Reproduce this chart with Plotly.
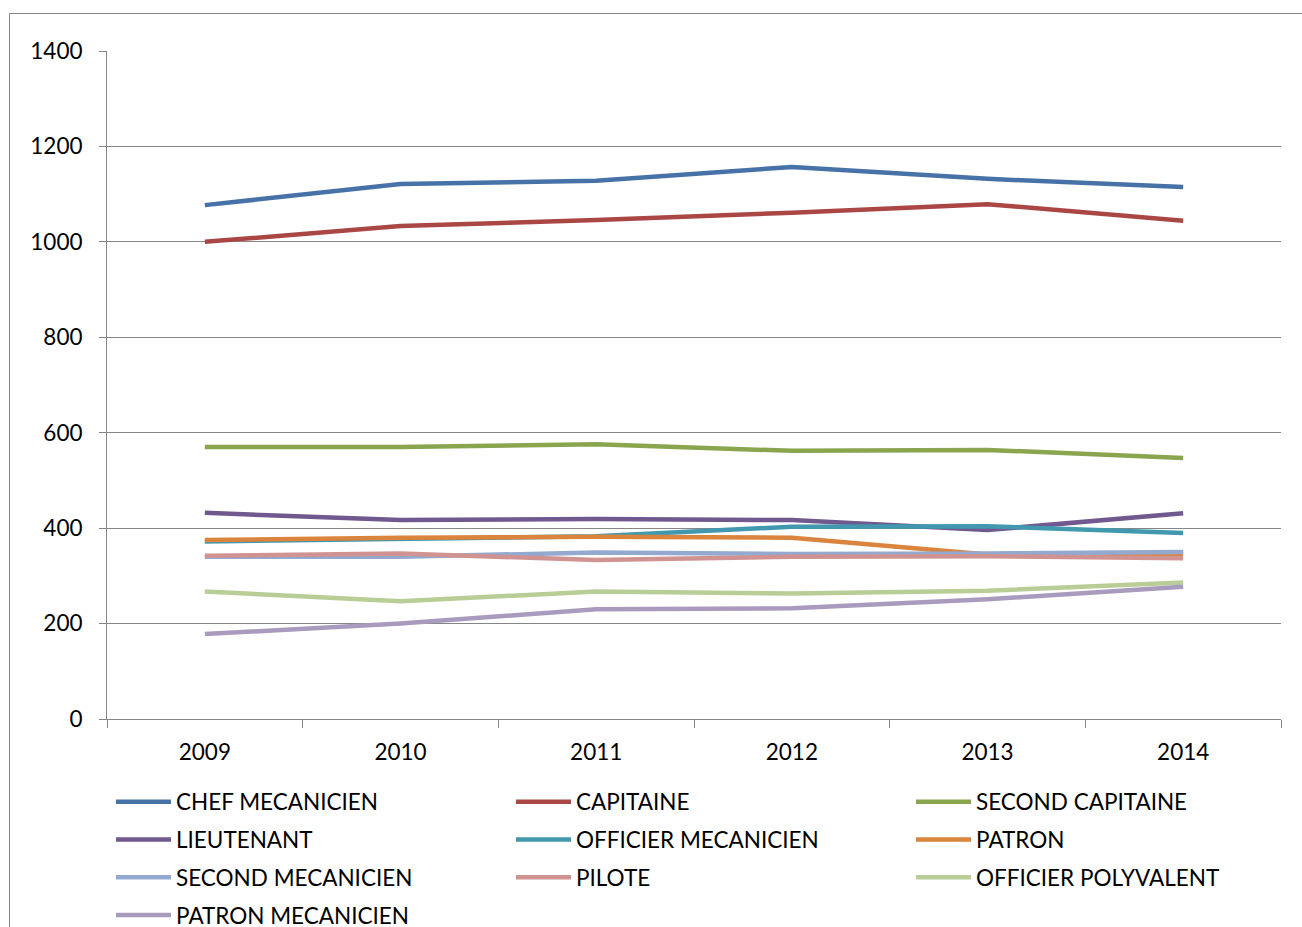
import plotly.graph_objects as go

years = ["2009", "2010", "2011", "2012", "2013", "2014"]

chef_mecanicien = [1077, 1121, 1128, 1157, 1132, 1115]
capitaine = [1000, 1033, 1046, 1061, 1079, 1044]
second_capitaine = [570, 570, 576, 562, 564, 547]
lieutenant = [432, 417, 419, 417, 396, 431]
officier_mecanicien = [372, 378, 383, 403, 404, 390]
patron = [375, 380, 382, 380, 345, 346]
second_mecanicien = [340, 340, 349, 346, 347, 350]
pilote = [342, 347, 333, 340, 341, 337]
officier_polyvalent = [267, 247, 267, 263, 269, 286]
patron_mecanicien = [178, 200, 230, 232, 251, 277]

# (name, values, colour, legend column)
series = [
    ("CHEF MECANICIEN", chef_mecanicien, "#4672A8", "legend"),
    ("CAPITAINE", capitaine, "#AA4643", "legend2"),
    ("SECOND CAPITAINE", second_capitaine, "#89A54E", "legend3"),
    ("LIEUTENANT", lieutenant, "#71588F", "legend"),
    ("OFFICIER MECANICIEN", officier_mecanicien, "#4198AF", "legend2"),
    ("PATRON", patron, "#DB843D", "legend3"),
    ("SECOND MECANICIEN", second_mecanicien, "#93A9CF", "legend"),
    ("PILOTE", pilote, "#D19392", "legend2"),
    ("OFFICIER POLYVALENT", officier_polyvalent, "#B9CD96", "legend3"),
    ("PATRON MECANICIEN", patron_mecanicien, "#A99BBD", "legend"),
]

# body margin is removed (see post_script), so figure px == screenshot px
W, H = 1302, 927
PL, PR, PT, PB = 107, 1281, 51, 719  # plot area in px
L, T = PL, PT
R = W - PR
B = H - PB
pw, ph = PR - PL, PB - PT


def px_x(p):
    return (p - PL) / pw


def px_y(p):
    return (PB - p) / ph


fig = go.Figure()
for i, (name, vals, color, leg) in enumerate(series):
    fig.add_trace(go.Scatter(
        x=years, y=vals, name=name, mode="lines",
        line=dict(color=color, width=4.5),
        legend=leg, legendgroup="g%d" % i,
    ))

font = dict(family="Lato, Carlito, Liberation Sans, sans-serif", size=22.5, color="#000000")

legend_cols = [("legend", 111), ("legend2", 511), ("legend3", 911)]
layout_legends = {}
for key, xpix in legend_cols:
    layout_legends[key] = dict(
        orientation="v",
        x=px_x(xpix), xanchor="left",
        y=px_y(780.5), yanchor="top",
        itemwidth=55,
        tracegroupgap=5.5,
        bgcolor="rgba(0,0,0,0)",
        font=font,
        traceorder="grouped",
        itemclick=False, itemdoubleclick=False,
    )

fig.update_layout(
    width=W, height=H,
    margin=dict(l=L, r=R, t=T, b=B, pad=0, autoexpand=False),
    paper_bgcolor="#FFFFFF",
    plot_bgcolor="#FFFFFF",
    font=font,
    showlegend=True,
    xaxis=dict(
        type="category",
        tickson="boundaries",
        ticks="outside", ticklen=8, tickcolor="#868686", tickwidth=1,
        showline=True, linecolor="#868686", linewidth=1,
        showgrid=False, zeroline=False,
        tickfont=font,
        ticklabelstandoff=13,
        range=[-0.5, 5.5],
    ),
    yaxis=dict(
        range=[0, 1400], dtick=200, tick0=0,
        ticks="outside", ticklen=7, tickcolor="#868686", tickwidth=1,
        showline=True, linecolor="#868686", linewidth=1,
        showgrid=True, gridcolor="#868686", gridwidth=1,
        zeroline=False,
        tickfont=font,
        ticklabelstandoff=12,
    ),
    shapes=[
        dict(type="rect", xref="paper", yref="paper",
             x0=px_x(9.5), x1=px_x(1320), y0=px_y(13.5), y1=px_y(940),
             line=dict(color="#868686", width=1), fillcolor="rgba(0,0,0,0)",
             layer="below"),
    ],
    **layout_legends,
)

fig.write_html(
    "out.html",
    config={"displayModeBar": False},
    post_script="document.body.style.margin='0px';document.body.style.overflow='hidden';",
)
